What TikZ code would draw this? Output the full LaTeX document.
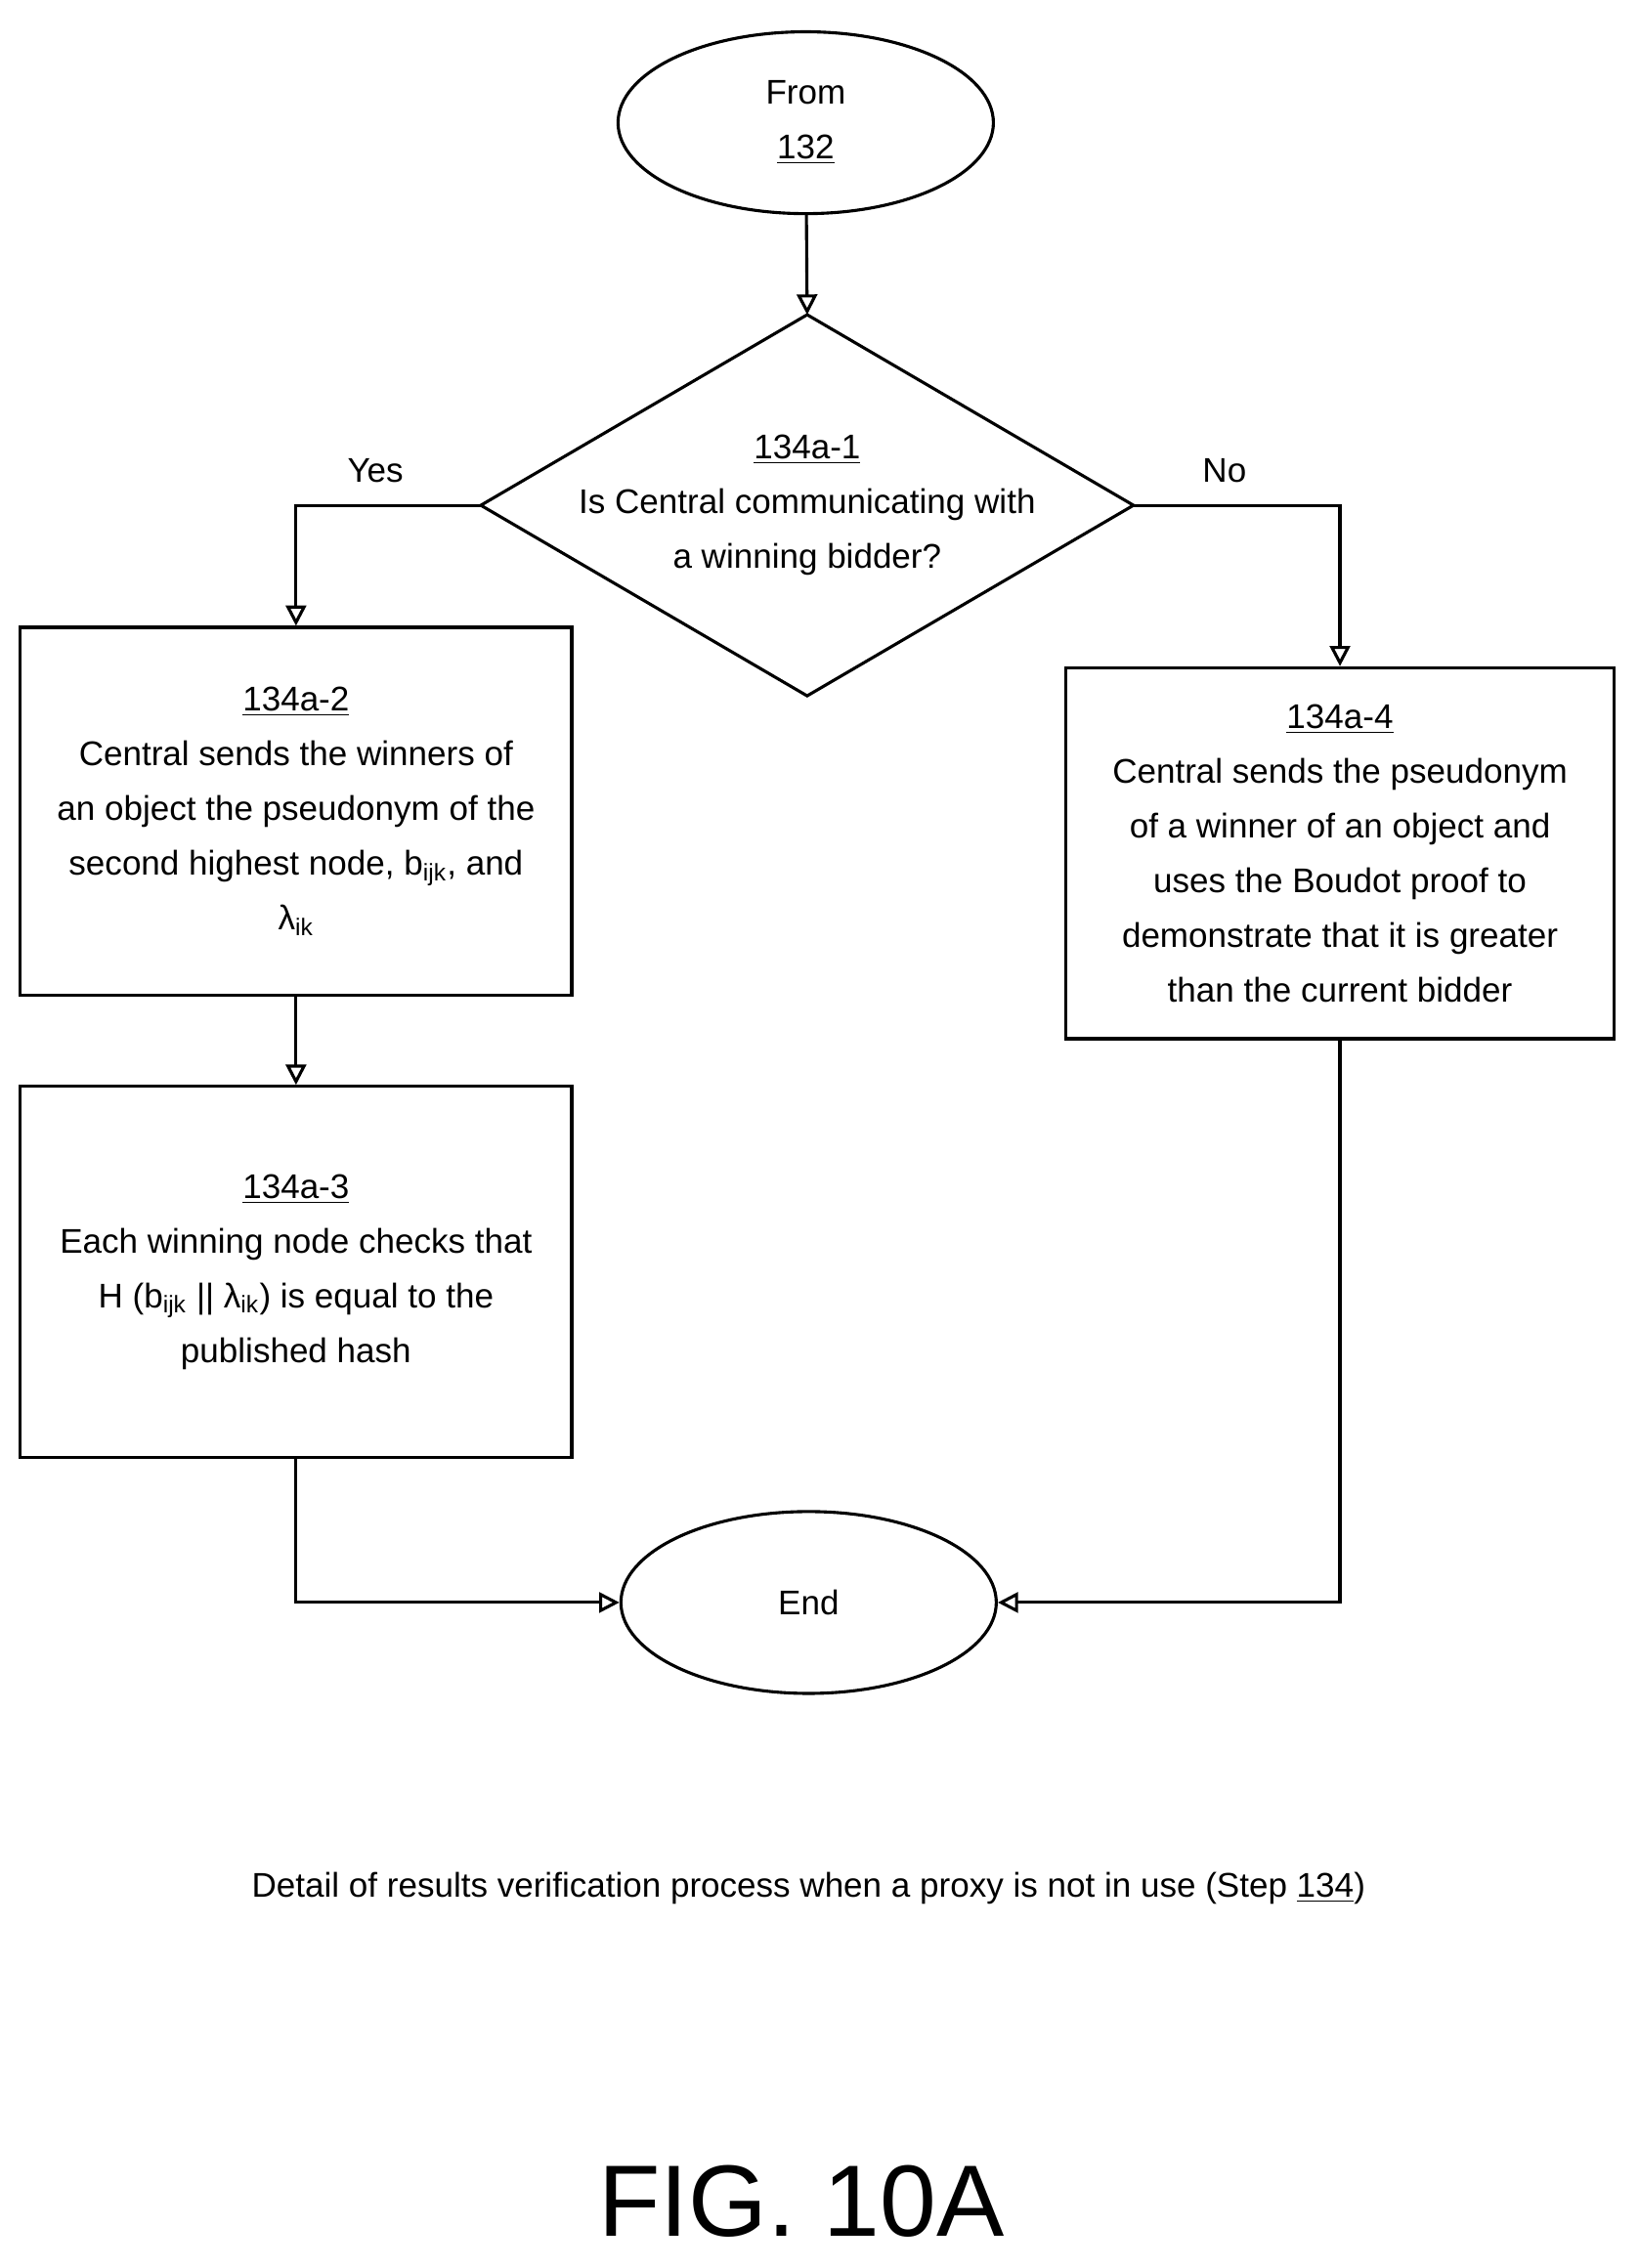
\documentclass[tikz,border=0pt]{standalone}
\usepackage{fontspec}
\setmainfont{Liberation Sans}
\usetikzlibrary{positioning,shapes.geometric,arrows.meta}
\tikzset{
    flow/.style={draw, line width=1.2pt, align=center, font=\fontsize{13.5}{21.6}\selectfont},
    step box/.style={flow, rectangle, minimum width=7.64cm, minimum height=5.1cm},
    term/.style={flow, ellipse, minimum width=5.2cm, minimum height=2.52cm},
    link/.style={line width=1.2pt, -{Triangle[open, length=8pt, width=8pt]}},
    lbl/.style={font=\fontsize{13.5}{16}\selectfont}
}
\begin{document}
\begin{tikzpicture}[x=0.02cm, y=-0.02cm]
    \useasboundingbox (0,0) rectangle (1135,1571);
    \node[term] (start) at (558,85) {From\\\underline{132}};
    % decision diamond
    \coordinate (q1n) at (559,218);
    \coordinate (q1s) at (559,482);
    \coordinate (q1w) at (333,350);
    \coordinate (q1e) at (785,350);
    \draw[line width=1.2pt] (q1n) -- (q1e) -- (q1s) -- (q1w) -- cycle;
    \node[align=center, font=\fontsize{13.5}{21.6}\selectfont] (q1) at (559,350) {\underline{134a-1}\\Is Central communicating with\\a winning bidder?};
    \node[step box, minimum height=5.1cm] (s2) at (205,562) {\underline{134a-2}\\Central sends the winners of\\an object the pseudonym of the\\second highest node, b\textsubscript{ijk}, and\\λ\textsubscript{ik}};
    \node[step box, minimum height=5.14cm] (s3) at (205,881) {\underline{134a-3}\\Each winning node checks that\\H (b\textsubscript{ijk} || λ\textsubscript{ik}) is equal to the\\published hash};
    \node[step box, minimum width=7.6cm, minimum height=5.14cm] (s4) at (928,591) {\underline{134a-4}\\Central sends the pseudonym\\of a winner of an object and\\uses the Boudot proof to\\demonstrate that it is greater\\than the current bidder};
    \node[term] (stop) at (560,1110) {End};
    % connectors
    \draw[link] (start) -- (q1n);
    \draw[link] (q1w) -| (s2.north);
    \draw[link] (q1e) -| (s4.north);
    \draw[link] (s2) -- (s3);
    \draw[link] (s3.south) |- (stop.west);
    \draw[link] (s4.south) |- (stop.east);
    \node[lbl] (yes) at (260,326) {Yes};
    \node[lbl] (no) at (848,326) {No};
    \node[lbl] (cap) at (560,1308) {Detail of results verification process when a proxy is not in use (Step \underline{134})};
    \node[font=\fontsize{40}{44}\selectfont] (fig) at (555,1525) {FIG. 10A};
\end{tikzpicture}
\end{document}
